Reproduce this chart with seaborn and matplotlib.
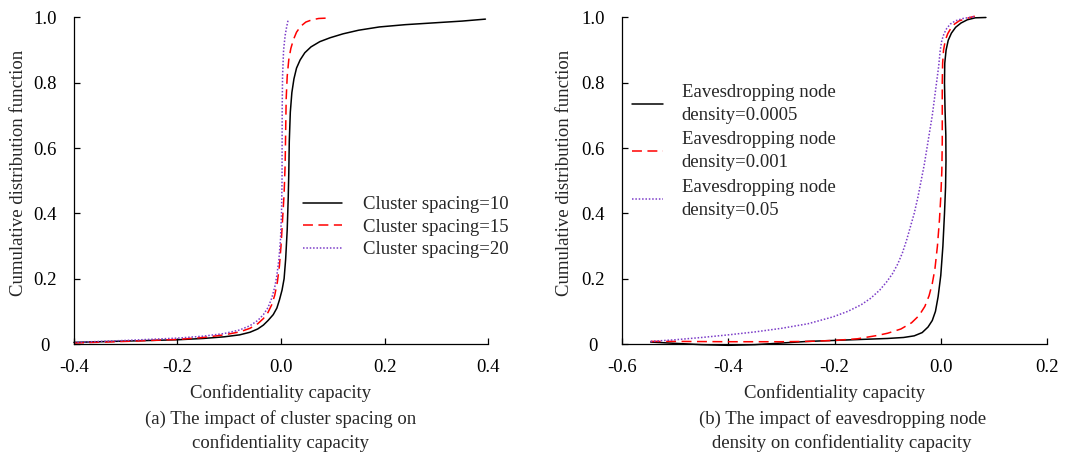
import matplotlib
matplotlib.use("Agg")
import matplotlib.pyplot as plt
import seaborn as sns
import pandas as pd

# ---- (a) cluster spacing: CDF of confidentiality capacity ----
spacing_labels = ["Cluster spacing=10", "Cluster spacing=15", "Cluster spacing=20"]

s10_x = [-0.400, -0.300, -0.200, -0.150, -0.110, -0.080, -0.060, -0.045, -0.034, -0.025,
         -0.015, -0.008, -0.003, 0.002, 0.006, 0.009, 0.012, 0.014, 0.015, 0.016, 0.018,
         0.021, 0.025, 0.030, 0.037, 0.046, 0.058, 0.075, 0.095, 0.120, 0.150, 0.190,
         0.240, 0.300, 0.350, 0.395]
s10_y = [0.005, 0.009, 0.013, 0.017, 0.022, 0.028, 0.036, 0.046, 0.058, 0.072,
         0.090, 0.110, 0.135, 0.165, 0.200, 0.260, 0.350, 0.450, 0.520, 0.620, 0.710,
         0.770, 0.812, 0.845, 0.870, 0.892, 0.910, 0.926, 0.938, 0.950, 0.961, 0.971,
         0.978, 0.984, 0.989, 0.995]

s15_x = [-0.400, -0.300, -0.200, -0.150, -0.110, -0.080, -0.060, -0.045, -0.034, -0.025,
         -0.018, -0.012, -0.007, -0.003, 0.000, 0.003, 0.006, 0.008, 0.009, 0.010, 0.012,
         0.015, 0.019, 0.024, 0.030, 0.038, 0.048, 0.060, 0.073, 0.087]
s15_y = [0.003, 0.008, 0.014, 0.020, 0.028, 0.037, 0.048, 0.062, 0.078, 0.097,
         0.120, 0.150, 0.190, 0.240, 0.300, 0.380, 0.460, 0.550, 0.650, 0.750, 0.820,
         0.870, 0.905, 0.932, 0.955, 0.973, 0.986, 0.993, 0.997, 0.998]

s20_x = [-0.400, -0.300, -0.200, -0.150, -0.110, -0.080, -0.060, -0.045, -0.034, -0.025,
         -0.018, -0.012, -0.008, -0.004, -0.001, 0.001, 0.002, 0.0023, 0.003, 0.005,
         0.008, 0.011, 0.014]
s20_y = [0.005, 0.011, 0.018, 0.024, 0.032, 0.043, 0.056, 0.072, 0.090, 0.112,
         0.140, 0.175, 0.210, 0.260, 0.320, 0.400, 0.500, 0.720, 0.820, 0.900,
         0.945, 0.972, 0.994]

# ---- (b) eavesdropping node density ----
density_labels = ["Eavesdropping node\ndensity=0.0005",
                  "Eavesdropping node\ndensity=0.001",
                  "Eavesdropping node\ndensity=0.05"]

d0005_x = [-0.546, -0.500, -0.450, -0.400, -0.350, -0.300, -0.250, -0.200, -0.150, -0.100,
           -0.070, -0.050, -0.035, -0.024, -0.016, -0.010, -0.005, 0.000, 0.004, 0.007,
           0.009, 0.0098, 0.0095, 0.008, 0.007, 0.0075, 0.010, 0.014, 0.020, 0.028, 0.038,
           0.050, 0.065, 0.085]
d0005_y = [0.006, 0.002, -0.002, -0.004, -0.002, 0.003, 0.008, 0.011, 0.014, 0.017,
           0.020, 0.025, 0.035, 0.052, 0.072, 0.100, 0.145, 0.210, 0.300, 0.400,
           0.480, 0.560, 0.640, 0.720, 0.800, 0.860, 0.900, 0.930, 0.952, 0.970, 0.983,
           0.993, 0.999, 1.000]

d001_x = [-0.546, -0.500, -0.400, -0.300, -0.250, -0.200, -0.157, -0.120, -0.100, -0.075,
          -0.055, -0.041, -0.030, -0.022, -0.016, -0.011, -0.0063, -0.0025, 0.000, 0.002,
          0.0028, 0.0028, 0.0028, 0.0035, 0.0052, 0.0085, 0.013, 0.019, 0.026, 0.035,
          0.045, 0.055, 0.064]
d001_y = [0.008, 0.008, 0.007, 0.007, 0.008, 0.011, 0.016, 0.026, 0.033, 0.046,
          0.065, 0.087, 0.115, 0.148, 0.185, 0.230, 0.300, 0.380, 0.450, 0.530,
          0.620, 0.720, 0.800, 0.860, 0.900, 0.930, 0.950, 0.967, 0.980, 0.990,
          0.995, 1.000, 1.004]

d05_x = [-0.546, -0.500, -0.450, -0.400, -0.350, -0.300, -0.250, -0.203, -0.175, -0.150,
         -0.132, -0.115, -0.102, -0.091, -0.081, -0.072, -0.064, -0.057, -0.050, -0.043,
         -0.037, -0.031, -0.026, -0.021, -0.016, -0.012, -0.008, -0.004, -0.001, 0.002,
         0.006, 0.011, 0.018, 0.028, 0.042, 0.065]
d05_y = [0.008, 0.013, 0.020, 0.028, 0.037, 0.048, 0.062, 0.083, 0.100, 0.120,
         0.140, 0.165, 0.190, 0.215, 0.245, 0.280, 0.320, 0.360, 0.400, 0.450,
         0.500, 0.550, 0.600, 0.650, 0.700, 0.750, 0.800, 0.850, 0.900, 0.930,
         0.950, 0.966, 0.980, 0.990, 0.997, 1.003]

y_ticks = [0.0, 0.2, 0.4, 0.6, 0.8, 1.0]
y_ticklabels = ["0", "0.2", "0.4", "0.6", "0.8", "1.0"]
xa_ticks = [-0.4, -0.2, 0.0, 0.2, 0.4]
xa_ticklabels = ["-0.4", "-0.2", "0.0", "0.2", "0.4"]
xb_ticks = [-0.6, -0.4, -0.2, 0.0, 0.2]
xb_ticklabels = ["-0.6", "-0.4", "-0.2", "0.0", "0.2"]

captions = ["(a) The impact of cluster spacing on\nconfidentiality capacity",
            "(b) The impact of eavesdropping node\ndensity on confidentiality capacity"]

sns.set_style("ticks")
plt.rcParams["font.family"] = ["Liberation Serif", "DejaVu Serif"]
plt.rcParams["axes.unicode_minus"] = False
FS = 13.5

colors = ["#000000", "#ff0000", "#7b3cc8"]
styles = [dict(linestyle="-"), dict(dashes=(6.5, 3.6)), dict(dashes=(1.0, 1.2))]

fig = plt.figure(figsize=(10.66, 4.53), dpi=100)
ax_a = fig.add_axes([0.0694, 0.2406, 0.3884, 0.7208])
ax_b = fig.add_axes([0.5835, 0.2406, 0.3987, 0.7208])


def draw(ax, xs, ys, labels):
    for x, y, lab, c, st in zip(xs, ys, labels, colors, styles):
        df = pd.DataFrame({"x": x, "y": y})
        sns.lineplot(data=df, x="x", y="y", ax=ax, sort=False, estimator=None,
                     color=c, linewidth=1.1, label=lab, clip_on=False, **st)


draw(ax_a, [s10_x, s15_x, s20_x], [s10_y, s15_y, s20_y], spacing_labels)
draw(ax_b, [d0005_x, d001_x, d05_x], [d0005_y, d001_y, d05_y], density_labels)

for ax, xt, xtl in [(ax_a, xa_ticks, xa_ticklabels), (ax_b, xb_ticks, xb_ticklabels)]:
    ax.set_xlim(xt[0], xt[-1])
    ax.set_ylim(0, 1)
    ax.set_xticks(xt)
    ax.set_xticklabels(xtl)
    ax.set_yticks(y_ticks)
    ax.set_yticklabels(y_ticklabels)
    for s in ["top", "right"]:
        ax.spines[s].set_visible(False)
    for s in ["left", "bottom"]:
        ax.spines[s].set_linewidth(0.9)
        ax.spines[s].set_color("black")
    ax.tick_params(axis="both", direction="in", length=4, width=0.9, color="black",
                   labelsize=FS, labelcolor="black")
    ax.tick_params(axis="x", pad=11)
    ax.tick_params(axis="y", pad=21)
    for t in ax.get_yticklabels():
        t.set_ha("center")
    ax.set_xlabel("Confidentiality capacity", fontsize=FS)
    ax.xaxis.set_label_coords(0.5, -0.15)
    ax.xaxis.label.set_va("center")
    ax.set_ylabel("Cumulative distribution function", fontsize=FS)
    ax.yaxis.set_label_coords(-0.135, 0.525)
    ax.yaxis.label.set_va("center")

ax_a.legend(loc="center left", bbox_to_anchor=(0.284, 0.4985),
            bbox_transform=fig.transFigure, frameon=False, fontsize=FS,
            borderpad=0, borderaxespad=0, handlelength=2.1, handletextpad=1.1,
            labelspacing=0.28)
leg_b = ax_b.legend(loc="center left", bbox_to_anchor=(0.5929, 0.666),
                    bbox_transform=fig.transFigure, frameon=False, fontsize=FS,
                    borderpad=0, borderaxespad=0, handlelength=1.65,
                    handletextpad=1.0, labelspacing=0.42)
for t in leg_b.get_texts():
    t.set_linespacing(1.45)

fig.text(0.2636, 0.0486, captions[0], ha="center", va="center", fontsize=FS,
         linespacing=1.45)
fig.text(0.790, 0.0486, captions[1], ha="center", va="center", fontsize=FS,
         linespacing=1.45)

fig.savefig("out.png", dpi=100)
